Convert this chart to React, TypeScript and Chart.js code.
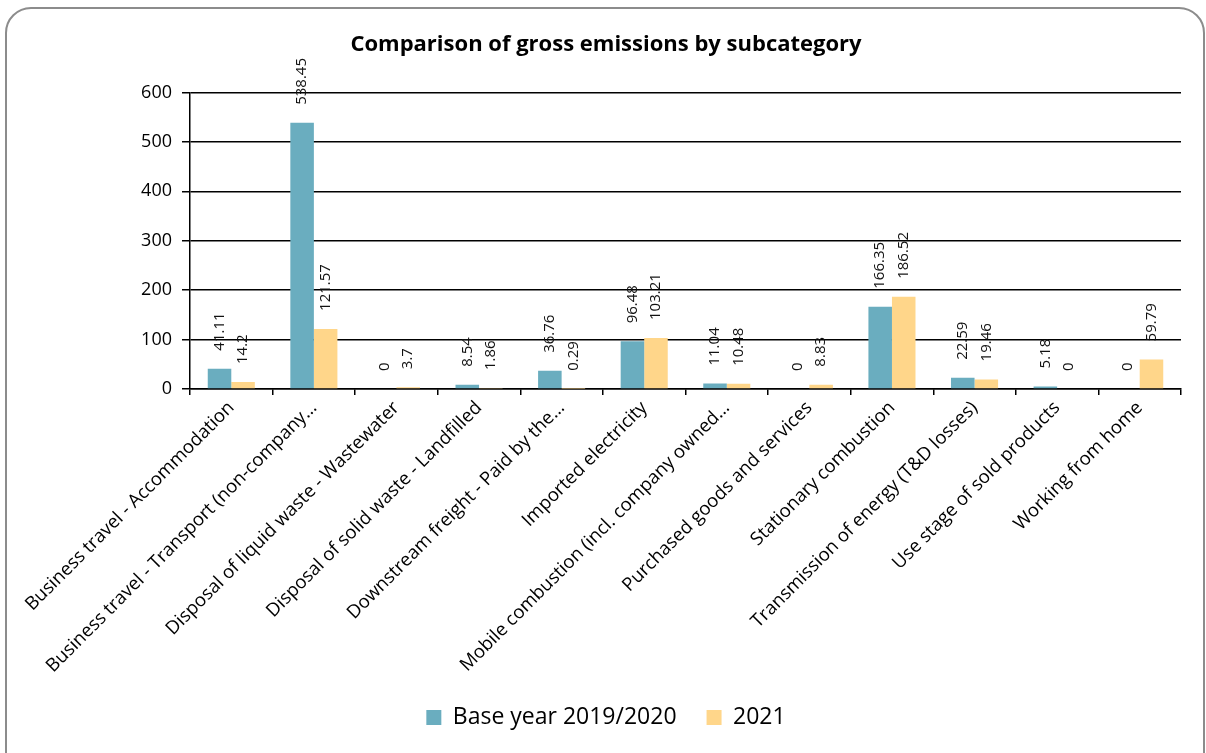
import React, { useEffect, useRef } from "react";
import { Chart, registerables } from "chart.js";

Chart.register(...registerables);

const categories = [
  "Business travel - Accommodation",
  "Business travel - Transport (non-company…",
  "Disposal of liquid waste - Wastewater",
  "Disposal of solid waste - Landfilled",
  "Downstream freight - Paid by the…",
  "Imported electricity",
  "Mobile combustion (incl. company owned…",
  "Purchased goods and services",
  "Stationary combustion",
  "Transmission of energy (T&D losses)",
  "Use stage of sold products",
  "Working from home",
];

const baseYear = [41.11, 538.45, 0, 8.54, 36.76, 96.48, 11.04, 0, 166.35, 22.59, 5.18, 0];
const year2021 = [14.2, 121.57, 3.7, 1.86, 0.29, 103.21, 10.48, 8.83, 186.52, 19.46, 0, 59.79];

const yMin = 0;
const yMax = 600;
const yStep = 100;

const FONT = "'Open Sans', 'Noto Sans', sans-serif";

const valueLabels = {
  id: "valueLabels",
  afterDatasetsDraw(chart: any) {
    const ctx = chart.ctx;
    ctx.save();
    ctx.font = `15px ${FONT}`;
    ctx.fillStyle = "#111";
    ctx.textAlign = "left";
    ctx.textBaseline = "middle";
    chart.data.datasets.forEach((ds: any, i: number) => {
      const meta = chart.getDatasetMeta(i);
      meta.data.forEach((bar: any, j: number) => {
        const v = ds.data[j];
        ctx.save();
        ctx.translate(bar.x, bar.y - 18);
        ctx.rotate(-Math.PI / 2);
        ctx.fillText(String(v), 0, 0);
        ctx.restore();
      });
    });
    ctx.restore();
  },
};

export default function App() {
  const canvasRef = useRef<HTMLCanvasElement | null>(null);

  useEffect(() => {
    if (!canvasRef.current) return;
    const chart = new Chart(canvasRef.current, {
      type: "bar",
      data: {
        labels: categories,
        datasets: [
          {
            label: "Base year 2019/2020",
            data: baseYear,
            backgroundColor: "#6aadbf",
            barPercentage: 1,
            categoryPercentage: 0.57,
          },
          {
            label: "2021",
            data: year2021,
            backgroundColor: "#ffd68a",
            barPercentage: 1,
            categoryPercentage: 0.57,
          },
        ],
      },
      options: {
        responsive: false,
        animation: false,
        layout: { padding: { left: 31, right: 25, top: 0, bottom: 14 } },
        plugins: {
          title: {
            display: true,
            text: "Comparison of gross emissions by subcategory",
            color: "#000",
            font: { family: FONT, size: 22, weight: "bold" },
            padding: { top: 32, bottom: 34 },
          },
          legend: {
            display: true,
            position: "bottom",
            labels: {
              color: "#000",
              font: { family: FONT, size: 23 },
              boxWidth: 15,
              boxHeight: 15,
              padding: 30,
            },
          },
          tooltip: { enabled: false },
        },
        scales: {
          x: {
            offset: true,
            grid: {
              display: true,
              drawOnChartArea: false,
              drawTicks: true,
              tickLength: 6,
              color: "#000",
              lineWidth: 1.5,
              offset: true,
            },
            border: { color: "#000", width: 1.5 },
            ticks: {
              autoSkip: false,
              maxRotation: 45,
              minRotation: 45,
              color: "#000",
              padding: 2,
              font: { family: FONT, size: 18.5 },
            },
            afterFit(scale: any) {
              scale.height = 287;
            },
          },
          y: {
            min: yMin,
            max: yMax,
            ticks: {
              stepSize: yStep,
              color: "#000",
              padding: 10,
              font: { family: FONT, size: 18 },
            },
            grid: { color: "#000", lineWidth: 1.5, tickLength: 8 },
            border: { color: "#000", width: 1.5 },
            afterFit(scale: any) {
              scale.width = 159;
            },
          },
        },
      },
      plugins: [valueLabels],
    });
    return () => chart.destroy();
  }, []);

  return (
    <div
      style={{
        position: "fixed",
        left: 0,
        top: 0,
        width: 1206,
        height: 753,
        overflow: "hidden",
        background: "#fff",
      }}
    >
      <div
        style={{
          position: "absolute",
          left: 5,
          top: 7,
          width: 1196,
          height: 800,
          border: "2px solid #8c8c8c",
          borderRadius: 26,
        }}
      />
      <canvas
        ref={canvasRef}
        width={1206}
        height={753}
        style={{ position: "absolute", left: 0, top: 0 }}
      />
    </div>
  );
}
